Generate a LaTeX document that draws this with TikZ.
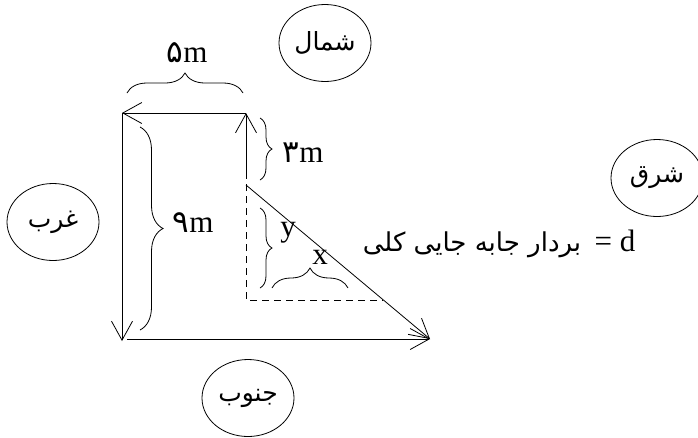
\documentclass[tikz,border=0pt]{standalone}
\usepackage{fontspec}
\setmainfont{Liberation Serif}
\newfontfamily\arabicfont[Script=Arabic]{DejaVu Sans}
\TeXXeTstate=1
\usetikzlibrary{arrows.meta,decorations.pathreplacing,shapes.geometric}
\begin{document}
\begin{tikzpicture}[x=1pt,y=-1pt, line width=0.8pt,
  vec/.style={-{Straight Barb[length=19pt,width=21pt]}},
  dir/.style={draw, ellipse, minimum width=92pt, minimum height=77pt, inner sep=0pt,
    font=\arabicfont\fontsize{25}{30}\selectfont},
  brc/.style={decorate, decoration={brace, amplitude=#1}},
  lbl/.style={font=\fontsize{31}{36}\selectfont, inner sep=0pt},
  dsh/.style={dash pattern=on 7pt off 5pt}]
\useasboundingbox (0,0) rectangle (698,437);
% corner points
\coordinate (A) at (246,113);
\coordinate (B) at (122,113);
\coordinate (C) at (122,341);
\coordinate (C2) at (127,339);
\coordinate (E) at (430,339);
\coordinate (S) at (246,185);
\coordinate (M) at (246,172);
\coordinate (P) at (246,300);
\coordinate (Q) at (383,300);
% vectors
\draw[vec] (M) -- (A);
\draw[vec] (A) -- (B);
\draw[vec] (B) -- (C);
\draw[vec] (C2) -- (E);
\draw[vec] (S) -- (E);
\draw[dsh] (M) -- (P) -- (Q);
% braces
\draw[brc=20pt] (127,93) -- (243,93);
\draw[brc=12pt] (260,118) -- (260,180);
\draw[brc=23pt] (140,127) -- (140,330);
\draw[brc=12pt] (260,208) -- (260,288);
\draw[brc=20pt] (272,288) -- (348,288);
% labels
\node[lbl] (l5) at (187,53) {{\arabicfont ۵}m};
\node[lbl] (l3) at (303,153) {{\arabicfont ۳}m};
\node[lbl] (l9) at (193,223) {{\arabicfont ۹}m};
\node[lbl] (ly) at (288,233) {y};
\node[lbl] (lx) at (320,257) {x};
% directions
\node[dir] (north) at (325,43) {\beginR شمال\endR};
\node[dir] (east) at (657,178) {\beginR شرق\endR};
\node[dir] (west) at (53,222) {\beginR غرب\endR};
\node[dir] (south) at (248,398) {\beginR جنوب\endR};
% displacement text
\node[font=\arabicfont\fontsize{26}{30}\selectfont, inner sep=0pt] (dtext) at (472,245) {\beginR بردار جابه جایی کلی\endR};
\node[lbl] (dlabel) at (615,241) {= d};
\end{tikzpicture}
\end{document}
